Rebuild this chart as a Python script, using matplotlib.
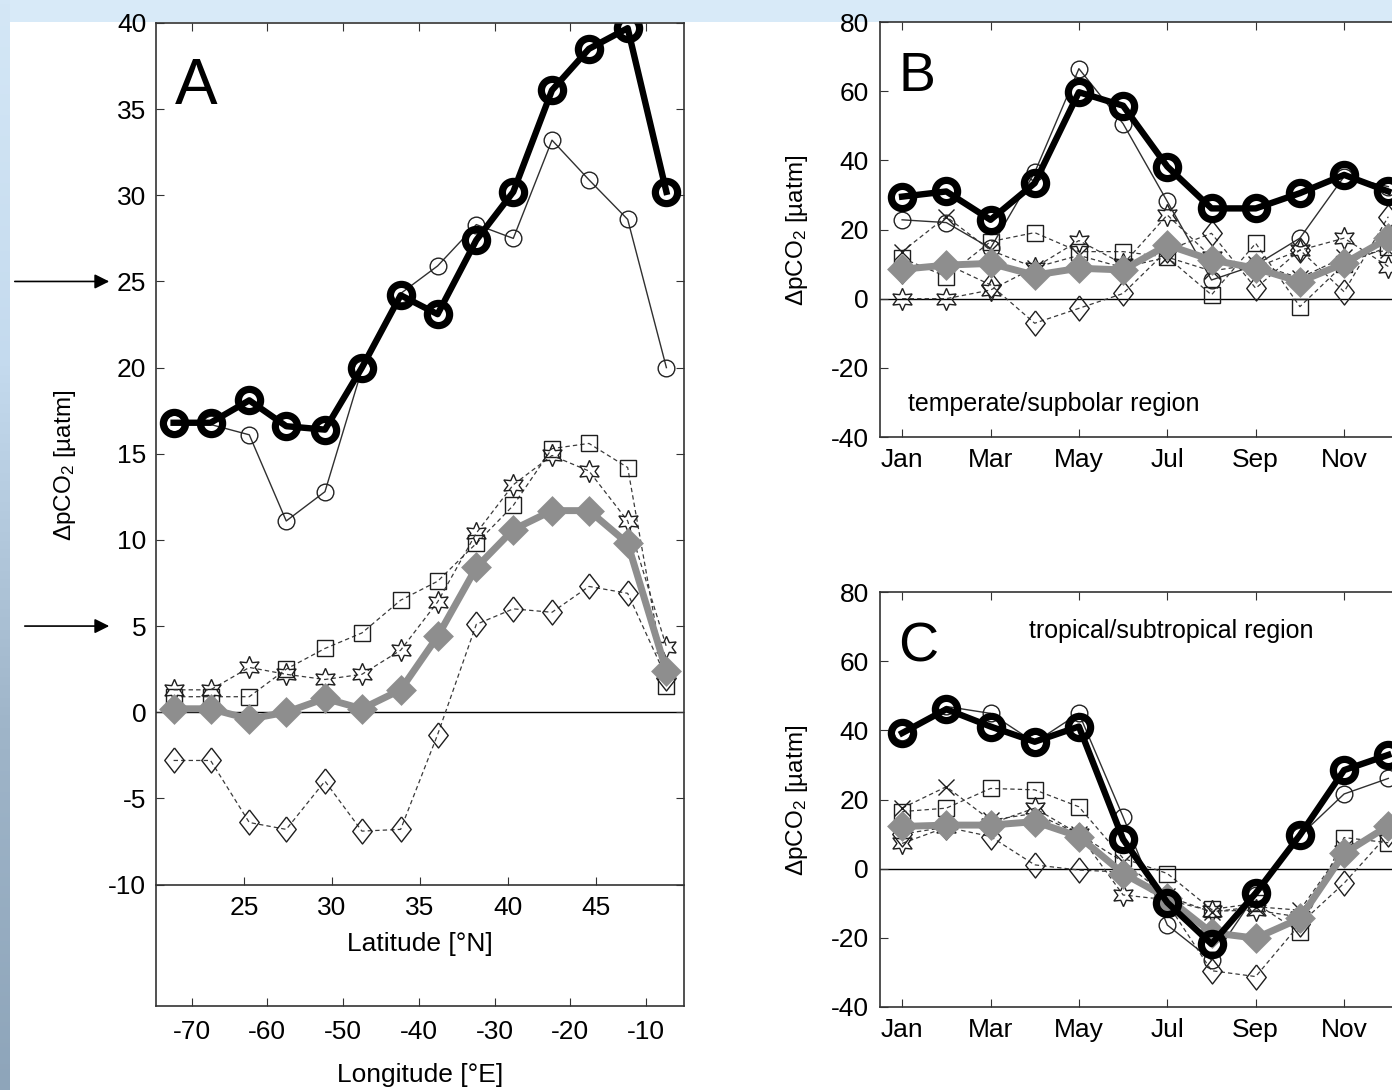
import numpy as np
import matplotlib.pyplot as plt
from matplotlib.patches import Rectangle
from matplotlib.colors import LinearSegmentedColormap

plt.rcParams['font.family'] = ['Liberation Sans', 'DejaVu Sans']
plt.rcParams['mathtext.fontset'] = 'custom'
plt.rcParams['mathtext.rm'] = 'Liberation Sans'
plt.rcParams['mathtext.it'] = 'Liberation Sans:italic'
plt.rcParams['axes.unicode_minus'] = False

# ---- panel A: along the transect (latitude) ----
lat = [21.0, 23.1, 25.3, 27.4, 29.6, 31.7, 33.9, 36.0, 38.2, 40.3, 42.5, 44.6, 46.8, 49.0]
black_A = [16.8, 16.8, 18.1, 16.6, 16.4, 20.0, 24.2, 23.1, 27.4, 30.2, 36.1, 38.5, 39.7, 30.2]
circ_A = [16.8, 16.7, 16.1, 11.1, 12.8, 19.9, 24.3, 25.9, 28.3, 27.5, 33.2, 30.9, 28.6, 20.0]
sq_A = [0.9, 0.9, 0.9, 2.5, 3.7, 4.6, 6.5, 7.6, 9.8, 12.0, 15.3, 15.6, 14.2, 1.5]
star_A = [1.3, 1.3, 2.6, 2.2, 1.9, 2.2, 3.6, 6.4, 10.4, 13.2, 14.9, 14.0, 11.1, 3.8]
dia_A = [-2.8, -2.8, -6.4, -6.8, -4.0, -6.9, -6.8, -1.3, 5.1, 6.0, 5.8, 7.3, 6.9, 2.0]
gray_A = [0.2, 0.2, -0.4, 0.0, 0.8, 0.2, 1.3, 4.4, 8.4, 10.6, 11.7, 11.7, 9.8, 2.4]

# ---- panels B and C: seasonal cycle ----
months = list(range(1, 13))
month_ticks = [1, 3, 5, 7, 9, 11]
month_labels = ['Jan', 'Mar', 'May', 'Jul', 'Sep', 'Nov']

black_B = [29.5, 31.0, 22.8, 33.4, 59.7, 55.8, 38.2, 26.1, 26.1, 30.5, 35.8, 31.0]
circ_B = [22.8, 22.0, 14.6, 36.5, 66.5, 50.6, 28.1, 5.4, 9.7, 17.5, 35.3, 32.4]
cross_B = [13.6, 23.7, 14.0, 9.0, 12.5, 9.0, 12.0, 8.0, 10.0, 6.0, 12.0, 14.0]
sq_B = [11.7, 6.4, 16.5, 19.1, 13.6, 13.6, 12.0, 1.1, 16.0, -2.3, 10.0, 15.0]
star_B = [0.0, 0.0, 2.5, 9.0, 16.8, 10.0, 24.2, 12.0, 9.0, 14.0, 17.5, 9.3]
dia_B = [8.0, 10.0, 4.0, -7.1, -2.8, 1.5, 14.0, 18.9, 3.0, 14.1, 2.0, 23.7]
gray_B = [8.5, 9.7, 10.2, 6.8, 8.8, 8.3, 15.5, 11.2, 8.8, 4.9, 10.2, 17.5]

black_C = [39.2, 46.1, 41.1, 36.7, 41.1, 8.5, -9.8, -21.8, -7.1, 9.7, 28.5, 32.9]
circ_C = [39.5, 46.9, 44.9, 36.5, 44.9, 15.0, -16.3, -26.4, -7.5, 9.5, 21.6, 26.1]
cross_C = [17.5, 23.7, 14.0, 16.0, 10.0, 2.0, -8.0, -12.5, -11.0, -12.0, 6.0, 12.0]
sq_C = [16.5, 17.5, 23.2, 22.8, 17.9, 3.0, -1.4, -11.8, -10.0, -18.4, 9.0, 7.5]
star_C = [7.3, 12.0, 13.0, 17.5, 10.0, -7.6, -9.0, -12.3, -12.0, -14.0, 5.0, 12.0]
dia_C = [10.0, 12.0, 9.3, 1.1, -0.4, -1.0, -10.0, -29.5, -31.2, -16.0, -4.2, 10.0]
gray_C = [12.2, 12.6, 12.6, 13.6, 9.3, -1.4, -8.4, -18.5, -20.1, -14.4, 4.4, 12.4]

W, H = 1392, 1090
fig = plt.figure(figsize=(W / 100, H / 100), dpi=100)
fig.patch.set_facecolor('#d8eaf8')
fig.add_artist(Rectangle((10 / W, 0), 1, (H - 22) / H, transform=fig.transFigure,
                         facecolor='white', edgecolor='none', zorder=0))

# left background strip (sky to sea)
ax_bg = fig.add_axes([0, 0, 10 / W, 1])
strip = LinearSegmentedColormap.from_list('strip', ['#d4e7f6', '#c4daee', '#9fb5c9', '#8ea5ba'])
ax_bg.imshow(np.linspace(0, 1, 256).reshape(-1, 1), aspect='auto', cmap=strip)
ax_bg.axis('off')

frame_col = '#333333'
tick_size = 19
hexagram = (6, 1, 0)
tall_diamond = [(0, 1), (0.78, 0), (0, -1), (-0.78, 0), (0, 1)]
dash = dict(color='#3a3a3a', lw=0.9, ls=(0, (3.5, 2.5)), mfc='none', mec='#1e1e1e', mew=1.0)


def draw_series(ax, x, circ, sq, star, dia, gray, black, cross=None):
    if cross is not None:
        ax.plot(x, cross, marker='x', ms=12, **dash)
    ax.plot(x, sq, marker='s', ms=12, **dash)
    ax.plot(x, star, marker=hexagram, ms=16, **dash)
    ax.plot(x, dia, marker=tall_diamond, ms=18, **dash)
    ax.plot(x, circ, color='#303030', lw=1.0, marker='o', ms=12, mfc='none', mec='#222222', mew=1.0)
    ax.plot(x, gray, color='#8e8e8e', lw=5, marker='D', ms=12, mfc='#8e8e8e', mec='#8e8e8e', mew=3.5)
    ax.plot(x, black, color='black', lw=4.6, marker='o', ms=16, mfc='none', mec='black', mew=5.2)


def style_frame(ax):
    for sp in ax.spines.values():
        sp.set_color(frame_col)
        sp.set_linewidth(1.2)


# ---- panel A ----
axA = fig.add_axes([156 / W, 84 / H, 528 / W, 983 / H])
axA.set_xlim(20, 50)
axA.set_ylim(-17.05, 40)
axA.set_yticks(np.arange(-10, 41, 5))
axA.tick_params(axis='y', direction='in', left=True, right=True, length=6,
                labelsize=tick_size, pad=7, color=frame_col)
axA.tick_params(axis='x', bottom=False, labelbottom=False)
axA.axhline(0, color='black', lw=1.0, zorder=1)
draw_series(axA, lat, circ_A, sq_A, star_A, dia_A, gray_A, black_A)
style_frame(axA)
axA.text(0.035, 0.965, 'A', transform=axA.transAxes, fontsize=46, va='top', ha='left')


def lat2lon(v):
    return -74.7 + (np.asarray(v) - 20) * 69.7 / 30


def lon2lat(v):
    return 20 + (np.asarray(v) + 74.7) * 30 / 69.7


lat_axis = axA.secondary_xaxis(7.05 / 57.05)
lat_axis.set_xticks([25, 30, 35, 40, 45])
lat_axis.tick_params(direction='in', length=6, labelsize=tick_size, pad=8, color=frame_col)
lat_axis.spines['bottom'].set_color(frame_col)
lat_axis.spines['bottom'].set_linewidth(1.2)
lat_axis.set_xlabel('Latitude [°N]', fontsize=tick_size, labelpad=9)

lon_axis = axA.secondary_xaxis('bottom', functions=(lat2lon, lon2lat))
lon_axis.set_xticks(range(-70, -9, 10))
lon_axis.tick_params(direction='in', length=6, labelsize=tick_size, pad=10, color=frame_col)
lon_axis.spines['bottom'].set_visible(False)
lon_axis.set_xlabel('Longitude [°E]', fontsize=tick_size, labelpad=14)

lon_top = axA.secondary_xaxis('top', functions=(lat2lon, lon2lat))
lon_top.set_xticks(range(-70, -9, 10))
lon_top.tick_params(direction='in', length=6, labeltop=False, color=frame_col)
lon_top.spines['top'].set_visible(False)

fig.text(65 / W, 1 - 465 / H, 'ΔpCO$_2$ [µatm]', rotation=90, fontsize=17.5,
         ha='center', va='center')

# arrows at the left of panel A
for yv, x0 in [(25, 12), (5, 22)]:
    axA.annotate('', xy=(112 / W, yv), xytext=(x0 / W, yv),
                 xycoords=('figure fraction', 'data'), textcoords=('figure fraction', 'data'),
                 arrowprops=dict(arrowstyle='-|>', color='black', lw=1.2, mutation_scale=22),
                 annotation_clip=False)


# ---- panels B and C ----
def month_panel(bottom_px, circ, cross, sq, star, dia, gray, black, letter, region, region_xy):
    ax = fig.add_axes([880 / W, (H - bottom_px) / H, 530.4 / W, 415 / H])
    ax.set_xlim(0.5, 12.5)
    ax.set_ylim(-40, 80)
    ax.set_yticks(range(-40, 81, 20))
    ax.set_xticks(month_ticks)
    ax.set_xticklabels(month_labels)
    ax.tick_params(direction='in', top=True, right=True, length=6, labelsize=tick_size,
                   pad=8, color=frame_col)
    ax.axhline(0, color='black', lw=1.0, zorder=1)
    draw_series(ax, months, circ, sq, star, dia, gray, black, cross=cross)
    style_frame(ax)
    ax.text(0.035, 0.93, letter, transform=ax.transAxes, fontsize=40, va='top', ha='left')
    ax.text(region_xy[0], region_xy[1], region, transform=ax.transAxes, fontsize=18,
            va='center', ha='left')
    fig.text(797 / W, 1 - (bottom_px - 207) / H, 'ΔpCO$_2$ [µatm]', rotation=90,
             fontsize=17.5, ha='center', va='center')
    return ax


month_panel(437, circ_B, cross_B, sq_B, star_B, dia_B, gray_B, black_B, 'B',
            'temperate/supbolar region', (0.052, 0.08))
month_panel(1007, circ_C, cross_C, sq_C, star_C, dia_C, gray_C, black_C, 'C',
            'tropical/subtropical region', (0.28, 0.905))

fig.savefig('out.png', dpi=100, facecolor=fig.get_facecolor())
